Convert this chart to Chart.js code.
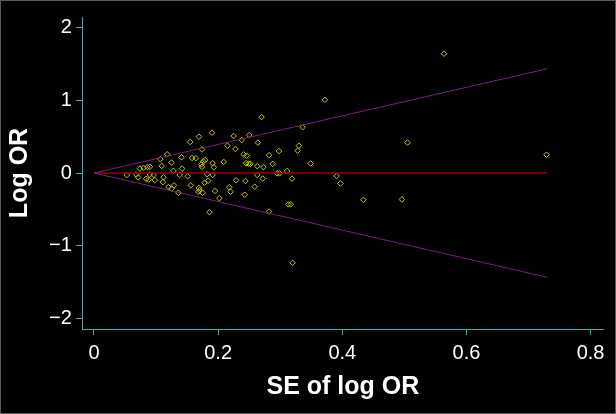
<!DOCTYPE html>
<html>
<head>
<meta charset="utf-8">
<script src="https://cdn.jsdelivr.net/npm/chart.js@4"></script>
<style>
  html, body { margin: 0; padding: 0; background: #000; }
  #wrap { width: 614px; height: 412px; border: 1px solid #5a5a5a; background: #000; }
</style>
</head>
<body>
<div id="wrap"><canvas id="funnel" width="614" height="412"></canvas></div>
<script>
// studies: standard error of log OR and log OR
const seLogOR = [
  0.564, 0.372, 0.270, 0.336, 0.505, 0.729, 0.190, 0.169, 0.225, 0.250,
  0.155, 0.238, 0.264, 0.215, 0.228, 0.174, 0.330, 0.328, 0.298, 0.118,
  0.141, 0.158, 0.164, 0.107, 0.179, 0.176, 0.173, 0.174, 0.191, 0.193,
  0.209, 0.241, 0.246, 0.282, 0.245, 0.249, 0.252, 0.288, 0.349, 0.125,
  0.263, 0.273, 0.142, 0.109, 0.090, 0.086, 0.080, 0.074, 0.128, 0.311,
  0.295, 0.299, 0.053, 0.068, 0.090, 0.096, 0.138, 0.151, 0.182, 0.191,
  0.263, 0.391, 0.071, 0.084, 0.088, 0.098, 0.112, 0.111, 0.319, 0.272,
  0.184, 0.178, 0.229, 0.244, 0.397, 0.156, 0.129, 0.120, 0.125, 0.169,
  0.170, 0.168, 0.175, 0.218, 0.220, 0.195, 0.259, 0.136, 0.243, 0.202,
  0.434, 0.496, 0.313, 0.317, 0.186, 0.282, 0.320
];
const logOR = [
  1.637, 1.004, 0.767, 0.628, 0.417, 0.251, 0.552, 0.498, 0.507, 0.520,
  0.426, 0.453, 0.417, 0.375, 0.330, 0.323, 0.375, 0.307, 0.302, 0.256,
  0.215, 0.206, 0.203, 0.190, 0.178, 0.160, 0.117, 0.085, 0.135, 0.078,
  0.152, 0.255, 0.238, 0.245, 0.135, 0.128, 0.126, 0.126, 0.130, 0.144,
  0.094, 0.081, 0.060, 0.098, 0.085, 0.080, 0.070, 0.060, 0.030, 0.027,
  -0.005, -0.005, -0.027, -0.020, -0.022, -0.027, -0.027, -0.045, -0.018, -0.027,
  -0.027, -0.040, -0.060, -0.080, -0.090, -0.098, -0.058, -0.125, -0.078, -0.076,
  -0.106, -0.134, -0.100, -0.110, -0.143, -0.170, -0.170, -0.193, -0.215, -0.205,
  -0.235, -0.258, -0.272, -0.195, -0.256, -0.246, -0.188, -0.272, -0.298, -0.345,
  -0.368, -0.363, -0.430, -0.430, -0.538, -0.529, -1.233
];

// pooled line and pseudo 95% limits
const refSE = [0, 0.73];
const refCentre = [0, 0];
const refUpper = [0, 1.43];
const refLower = [0, -1.43];

const xTicks = [0, 0.2, 0.4, 0.6, 0.8];
const yTicks = [-2, -1, 0, 1, 2];

const axisColor = '#33b3ad';
const pts = (xs, ys) => xs.map((x, i) => ({ x: x, y: ys[i] }));
const fmt = v => (v < 0 ? '\u2212' + Math.abs(v) : String(v));

new Chart(document.getElementById('funnel'), {
  type: 'scatter',
  data: {
    datasets: [
      {
        data: pts(refSE, refUpper), showLine: true, borderColor: '#7c1f84',
        borderWidth: 1, pointRadius: 0
      },
      {
        data: pts(refSE, refLower), showLine: true, borderColor: '#7c1f84',
        borderWidth: 1, pointRadius: 0
      },
      {
        data: pts(refSE, refCentre), showLine: true, borderColor: '#980000',
        borderWidth: 1.5, pointRadius: 0
      },
      {
        data: pts(seLogOR, logOR), pointStyle: 'rectRot', pointRadius: 2.8,
        borderColor: '#c8c800', backgroundColor: 'rgba(0,0,0,0)', borderWidth: 1
      }
    ]
  },
  options: {
    responsive: false,
    animation: false,
    layout: { padding: { top: 0, right: 12, left: 4, bottom: 11 } },
    plugins: { legend: { display: false }, tooltip: { enabled: false } },
    scales: {
      x: {
        type: 'linear', min: -0.018, max: 0.82,
        afterBuildTicks: s => { s.ticks = xTicks.map(v => ({ value: v })); },
        border: { display: true, color: axisColor, width: 1 },
        grid: { drawOnChartArea: false, drawTicks: true, tickLength: 6, color: axisColor },
        ticks: {
          color: '#fff', padding: 6, maxRotation: 0,
          font: { family: 'Liberation Sans', size: 20 },
          callback: v => (v === 0 ? '0' : v.toFixed(1))
        },
        title: {
          display: true, text: 'SE of log OR', color: '#fff',
          font: { family: 'Liberation Sans', size: 25, weight: 'bold' },
          padding: { top: 1, bottom: 0 }
        }
      },
      y: {
        type: 'linear', min: -2.14, max: 2.14,
        afterBuildTicks: s => { s.ticks = yTicks.map(v => ({ value: v })); },
        border: { display: true, color: axisColor, width: 1 },
        grid: { drawOnChartArea: false, drawTicks: true, tickLength: 7, color: axisColor },
        ticks: {
          color: '#fff', padding: 4,
          font: { family: 'Liberation Sans', size: 20 },
          callback: v => fmt(v)
        },
        title: {
          display: true, text: 'Log OR', color: '#fff',
          font: { family: 'Liberation Sans', size: 25, weight: 'bold' },
          padding: { top: 0, bottom: 10 }
        }
      }
    }
  }
});
</script>
</body>
</html>
